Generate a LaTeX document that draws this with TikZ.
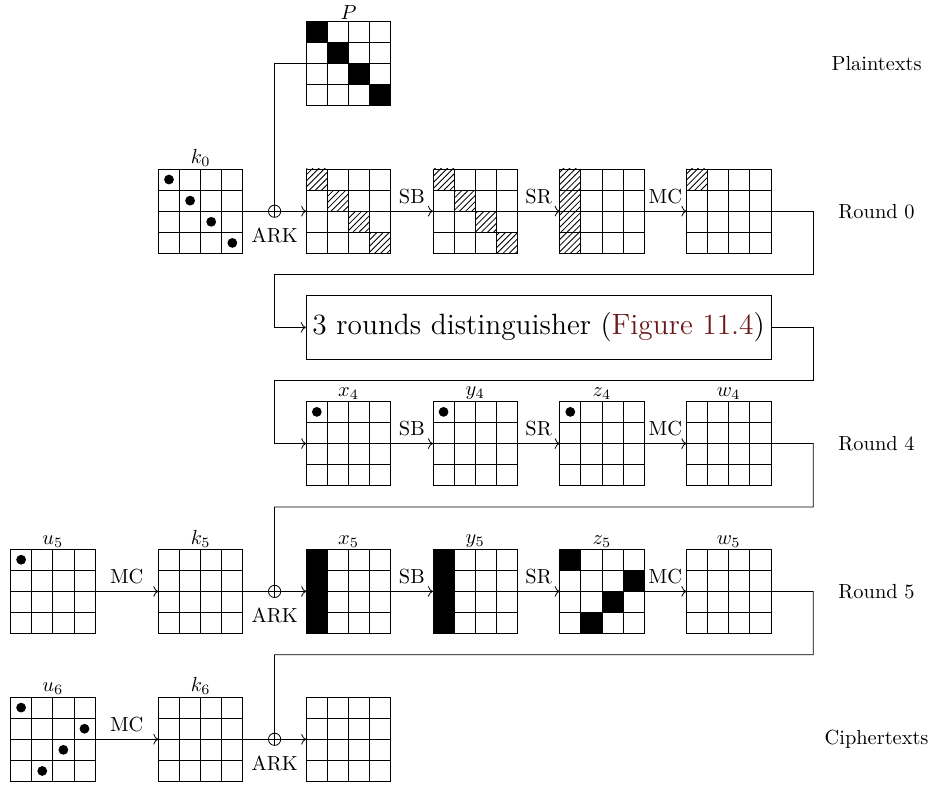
\documentclass[tikz,border=0pt]{standalone}
\usepackage{xcolor}
\usepackage{tikz}
\usetikzlibrary{arrows.meta, positioning, calc, patterns}
\definecolor{figred}{RGB}{110,25,25}

\begin{document}
\begin{tikzpicture}[
  x=0.364cm, y=0.364cm,
  aesbox/.style={draw, minimum size=1.456cm, inner sep=0pt, outer sep=0pt,
    path picture={
      \foreach \k in {1,2,3}{
        \draw ($(path picture bounding box.north west)!\k/4!(path picture bounding box.north east)$)
          -- ($(path picture bounding box.south west)!\k/4!(path picture bounding box.south east)$);
        \draw ($(path picture bounding box.north west)!\k/4!(path picture bounding box.south west)$)
          -- ($(path picture bounding box.north east)!\k/4!(path picture bounding box.south east)$);
      }}},
  tag/.style={label={[label distance=-2.5pt]above:#1}},
  xorop/.style={circle, draw, minimum size=6pt, inner sep=0pt, outer sep=0pt,
    path picture={
      \draw (path picture bounding box.north) -- (path picture bounding box.south)
            (path picture bounding box.west) -- (path picture bounding box.east);}},
  arklbl/.style={label={[label distance=1.5pt]below:ARK}},
  arrow/.style={->},
  bigbox/.style={draw, minimum width=8.008cm, minimum height=1.092cm,
                 inner sep=1pt, font=\Large},
  hatch/.style={pattern=north east lines}
]
\useasboundingbox (-0.5,0) rectangle (43.53,-37.26);

% Plaintexts
\node[aesbox, tag={$P$}] (P) at (16,-3) {};

% Round 0
\node[aesbox, tag={$k_0$}] (k0) at (9,-10) {};
\node[aesbox, right=1.092cm of k0] (a0) {};
\node[aesbox, right=0.728cm of a0] (b0) {};
\node[aesbox, right=0.728cm of b0] (c0) {};
\node[aesbox, right=0.728cm of c0] (d0) {};
\node[xorop, arklbl] (ark0) at ($(k0.east)!0.5!(a0.west)$) {};

% Distinguisher
\node[bigbox] (dist) at (25,-15.5) {3 rounds distinguisher (\textcolor{figred}{Figure 11.4})};

% Round 4
\node[aesbox, tag={$x_4$}] (x4) at (16,-21) {};
\node[aesbox, right=0.728cm of x4, tag={$y_4$}] (y4) {};
\node[aesbox, right=0.728cm of y4, tag={$z_4$}] (z4) {};
\node[aesbox, right=0.728cm of z4, tag={$w_4$}] (w4) {};

% Round 5
\node[aesbox, tag={$u_5$}] (u5) at (2,-28) {};
\node[aesbox, right=1.092cm of u5, tag={$k_5$}] (k5) {};
\node[aesbox, right=1.092cm of k5, tag={$x_5$}] (x5) {};
\node[aesbox, right=0.728cm of x5, tag={$y_5$}] (y5) {};
\node[aesbox, right=0.728cm of y5, tag={$z_5$}] (z5) {};
\node[aesbox, right=0.728cm of z5, tag={$w_5$}] (w5) {};
\node[xorop, arklbl] (ark5) at ($(k5.east)!0.5!(x5.west)$) {};

% Ciphertexts
\node[aesbox, tag={$u_6$}] (u6) at (2,-35) {};
\node[aesbox, right=1.092cm of u6, tag={$k_6$}] (k6) {};
\node[aesbox, right=1.092cm of k6] (ct) {};
\node[xorop, arklbl] (ark6) at ($(k6.east)!0.5!(ct.west)$) {};

% Row names
\node (lblP) at (41,-3) {Plaintexts};
\node (lbl0) at (41,-10) {Round 0};
\node (lbl4) at (41,-21) {Round 4};
\node (lbl5) at (41,-28) {Round 5};
\node (lblC) at (41,-35) {Ciphertexts};

% Active bytes
\foreach \r/\c in {0/0,1/1,2/2,3/3}
  \fill ($(P.north west)+(\c,-\r)$) rectangle ++(1,-1);
\foreach \r/\c in {0/0,1/1,2/2,3/3}
  \fill ($(k0.north west)+(\c+0.5,-\r-0.5)$) circle (2.4pt);
\foreach \r/\c in {0/0,1/1,2/2,3/3}{
  \fill[hatch] ($(a0.north west)+(\c,-\r)$) rectangle ++(1,-1);
  \fill[hatch] ($(b0.north west)+(\c,-\r)$) rectangle ++(1,-1);
  \fill[hatch] ($(c0.north west)+(0,-\r)$) rectangle ++(1,-1);
}
\fill[hatch] (d0.north west) rectangle ++(1,-1);
\foreach \s in {x4,y4,z4,u5}
  \fill ($(\s.north west)+(0.5,-0.5)$) circle (2.4pt);
\foreach \r in {0,1,2,3}{
  \fill ($(x5.north west)+(0,-\r)$) rectangle ++(1,-1);
  \fill ($(y5.north west)+(0,-\r)$) rectangle ++(1,-1);
}
\foreach \r/\c in {0/0,1/3,2/2,3/1}
  \fill ($(z5.north west)+(\c,-\r)$) rectangle ++(1,-1);
\foreach \r/\c in {0/0,1/3,2/2,3/1}
  \fill ($(u6.north west)+(\c+0.5,-\r-0.5)$) circle (2.4pt);

% Bends between rounds
\coordinate (bendR0) at (38,-13);
\coordinate (bendL0) at (12.5,-13);
\coordinate (bendR1) at (38,-18);
\coordinate (bendL1) at (12.5,-18);
\coordinate (bendR4) at (38,-24);
\coordinate (bendL4) at (12.5,-24);
\coordinate (bendR5) at (38,-31);
\coordinate (bendL5) at (12.5,-31);

% Arrows
\draw (P.west) -| (ark0);
\draw (k0) -- (ark0);
\draw[arrow] (ark0) -- (a0);
\draw[arrow] (a0) -- node[above]{SB} (b0);
\draw[arrow] (b0) -- node[above]{SR} (c0);
\draw[arrow] (c0) -- node[above]{MC} (d0);
\draw[arrow] (d0) -| (bendR0) -- (bendL0) |- (dist);
\draw[arrow] (dist) -| (bendR1) -- (bendL1) |- (x4);
\draw[arrow] (x4) -- node[above]{SB} (y4);
\draw[arrow] (y4) -- node[above]{SR} (z4);
\draw[arrow] (z4) -- node[above]{MC} (w4);
\draw (w4) -| (bendR4) -- (bendL4) -- (ark5);
\draw[arrow] (u5) -- node[above]{MC} (k5);
\draw (k5) -- (ark5);
\draw[arrow] (ark5) -- (x5);
\draw[arrow] (x5) -- node[above]{SB} (y5);
\draw[arrow] (y5) -- node[above]{SR} (z5);
\draw[arrow] (z5) -- node[above]{MC} (w5);
\draw (w5) -| (bendR5) -- (bendL5) -- (ark6);
\draw[arrow] (u6) -- node[above]{MC} (k6);
\draw (k6) -- (ark6);
\draw[arrow] (ark6) -- (ct);

\end{tikzpicture}
\end{document}
